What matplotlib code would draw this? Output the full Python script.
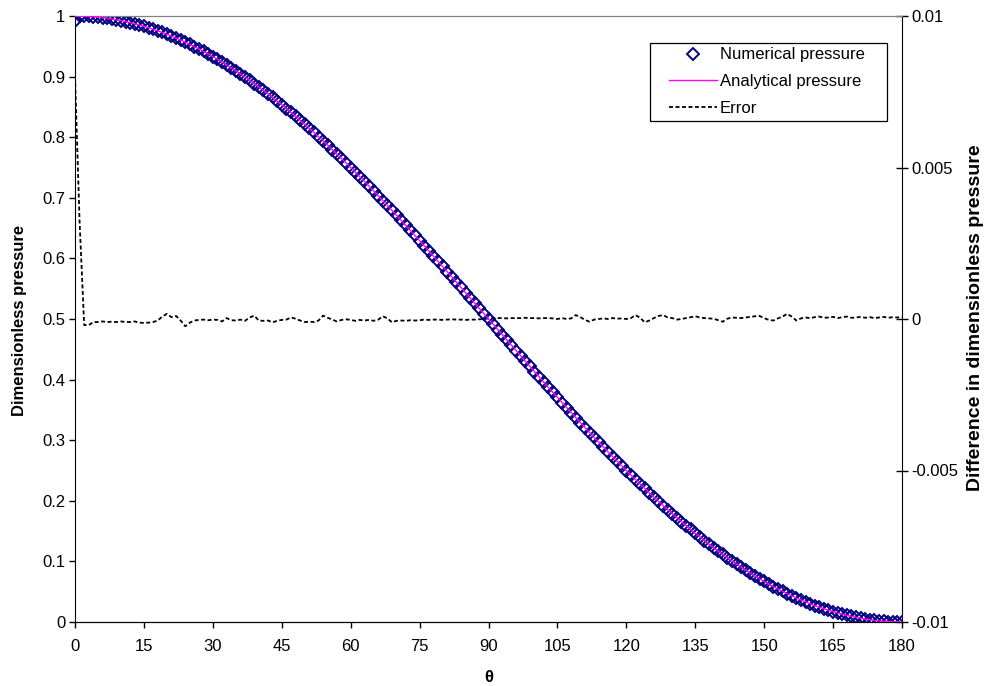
import matplotlib
matplotlib.use('Agg')

import numpy as np
import matplotlib.pyplot as plt
from matplotlib.patches import Rectangle

plt.rcParams['font.family'] = ['Liberation Sans', 'DejaVu Sans']
plt.rcParams['font.size'] = 12

# angle in degrees
theta = list(range(181))

# analytical pressure (1 deg steps)
analytical = [
    1.0000, 0.9999, 0.9997, 0.9993, 0.9988, 0.9981, 0.9973, 0.9963, 0.9951, 0.9938,
    0.9924, 0.9908, 0.9891, 0.9872, 0.9851, 0.9830, 0.9806, 0.9782, 0.9755, 0.9728,
    0.9698, 0.9668, 0.9636, 0.9603, 0.9568, 0.9531, 0.9494, 0.9455, 0.9415, 0.9373,
    0.9330, 0.9286, 0.9240, 0.9193, 0.9145, 0.9096, 0.9045, 0.8993, 0.8940, 0.8886,
    0.8830, 0.8773, 0.8716, 0.8657, 0.8597, 0.8536, 0.8473, 0.8410, 0.8346, 0.8280,
    0.8214, 0.8147, 0.8078, 0.8009, 0.7939, 0.7868, 0.7796, 0.7723, 0.7649, 0.7575,
    0.7500, 0.7424, 0.7347, 0.7270, 0.7192, 0.7113, 0.7033, 0.6953, 0.6873, 0.6792,
    0.6710, 0.6628, 0.6545, 0.6462, 0.6378, 0.6294, 0.6209, 0.6125, 0.6040, 0.5954,
    0.5868, 0.5782, 0.5696, 0.5609, 0.5523, 0.5436, 0.5349, 0.5262, 0.5175, 0.5087,
    0.5000, 0.4913, 0.4825, 0.4738, 0.4651, 0.4564, 0.4477, 0.4391, 0.4304, 0.4218,
    0.4132, 0.4046, 0.3960, 0.3875, 0.3791, 0.3706, 0.3622, 0.3538, 0.3455, 0.3372,
    0.3290, 0.3208, 0.3127, 0.3047, 0.2967, 0.2887, 0.2808, 0.2730, 0.2653, 0.2576,
    0.2500, 0.2425, 0.2351, 0.2277, 0.2204, 0.2132, 0.2061, 0.1991, 0.1922, 0.1853,
    0.1786, 0.1720, 0.1654, 0.1590, 0.1527, 0.1464, 0.1403, 0.1343, 0.1284, 0.1227,
    0.1170, 0.1114, 0.1060, 0.1007, 0.0955, 0.0904, 0.0855, 0.0807, 0.0760, 0.0714,
    0.0670, 0.0627, 0.0585, 0.0545, 0.0506, 0.0469, 0.0432, 0.0397, 0.0364, 0.0332,
    0.0302, 0.0272, 0.0245, 0.0218, 0.0194, 0.0170, 0.0149, 0.0128, 0.0109, 0.0092,
    0.0076, 0.0062, 0.0049, 0.0037, 0.0027, 0.0019, 0.0012, 0.0007, 0.0003, 0.0001,
    0.0000,
]

# numerical pressure: same except the first point sits a bit low
numerical = [0.991] + analytical[1:]

# difference, in units of 1e-4
error_e4 = [
    80, 32, -2.0, -2.0, -1.0, -1.0, -0.8, -1.0, -0.9, -1.0,
    -0.8, -1.0, -1.0, -0.8, -1.2, -1.3, -1.2, -1.0, -0.5, 0.8,
    1.7, 0.6, 1.0, -0.5, -2.4, -1.2, -0.5, -0.3, -0.2, -0.4,
    -0.2, -0.3, -0.8, 0.3, -0.4, -0.5, -0.2, -0.6, 0.5, 1.1,
    -0.5, -0.6, -0.5, -1.1, -0.6, -0.3, -0.2, 0.5, 0.1, -0.5,
    -1.0, -0.9, -1.0, -0.5, 1.1, 0.4, -0.2, -0.8, -0.3, -0.1,
    -0.3, -0.6, -0.3, -0.5, -0.3, -0.6, -0.2, 0.9, 0.2, -1.1,
    -0.6, -0.5, -0.6, -0.4, -0.5, -0.4, -0.2, -0.3, -0.2, -0.2,
    -0.3, -0.2, -0.1, -0.2, -0.2, -0.3, -0.2, -0.2, -0.1, 0.0,
    0.2, 0.3, 0.3, 0.3, 0.2, 0.3, 0.3, 0.3, 0.4, 0.3,
    0.3, 0.2, 0.3, 0.3, 0.2, 0.0, 0.3, 0.0, 0.2, 1.3,
    0.6, -0.3, -0.9, -0.2, 0.0, 0.2, 0.0, 0.3, 0.1, 0.2,
    0.0, 0.3, 1.3, 0.4, -1.1, -0.5, 0.3, 1.0, 1.3, 0.5,
    0.3, -0.2, 0.0, 0.3, 0.6, 0.9, 0.5, 0.3, 0.2, 0.1,
    -0.4, -0.9, 0.1, 0.5, 0.4, 0.3, 0.5, 0.7, 0.9, 1.0,
    0.3, -0.3, -0.5, 0.2, 0.8, 1.7, 0.8, -0.5, 0.2, 0.5,
    0.3, 0.6, 0.8, 0.4, 0.5, 0.7, 0.3, 0.6, 0.8, 0.4,
    0.5, 0.7, 0.4, 0.6, 0.3, 0.5, 0.7, 0.4, 0.6, 0.5,
    0.6,
]
error = [e * 1e-4 for e in error_e4]

xticks = list(range(0, 181, 15))
yticks = [0, 0.1, 0.2, 0.3, 0.4, 0.5, 0.6, 0.7, 0.8, 0.9, 1]
ylabels = ['0', '0.1', '0.2', '0.3', '0.4', '0.5', '0.6', '0.7', '0.8', '0.9', '1']
y2ticks = [-0.01, -0.005, 0, 0.005, 0.01]
y2labels = ['-0.01', '-0.005', '0', '0.005', '0.01']

W, H = 986, 686
x0, x1, y0, y1 = 75, 902, 16, 622   # plot area in pixels

fig = plt.figure(figsize=(W/100, H/100), dpi=100)
ax = fig.add_axes([x0/W, 1 - y1/H, (x1 - x0)/W, (y1 - y0)/H])
ax2 = ax.twinx()

# error on the secondary axis, drawn underneath
l3, = ax2.plot(theta, error, color='black', lw=1.3, ls=(0, (2.2, 1.4)), label='Error')

l2, = ax.plot(theta, analytical, color='#FF00FF', lw=1.0, label='Analytical pressure', zorder=3)
l1, = ax.plot(theta, numerical, ls='none', marker='D', markersize=6, mfc='none',
              mec='#000080', mew=1.4, label='Numerical pressure', zorder=2)
ax.set_zorder(ax2.get_zorder() + 1)
ax.patch.set_visible(False)

ax.set_xlim(0, 180)
ax.set_ylim(0, 1)
ax2.set_ylim(-0.01, 0.01)
ax.set_xticks(xticks)
ax.set_yticks(yticks)
ax.set_yticklabels(ylabels)
ax2.set_yticks(y2ticks)
ax2.set_yticklabels(y2labels)

ax.tick_params(axis='both', direction='out', length=4, width=1, pad=3, labelsize=12)
ax.tick_params(axis='x', pad=8.5)
ax2.tick_params(axis='y', direction='inout', length=8, width=1, pad=3, labelsize=12)

ax.spines['top'].set_color('#808080')
ax2.spines['top'].set_color('#808080')
ax.spines['right'].set_visible(False)
ax2.spines['left'].set_visible(False)
ax2.spines['right'].set_color('black')

fig.text(488.5/W, 1 - 677/H, 'θ', ha='center', va='center', fontsize=12, fontweight='bold')
fig.text(20/W, 1 - 320/H, 'Dimensionless pressure', rotation=90,
         ha='center', va='center', fontsize=12, fontweight='bold')
fig.text(976/W, 1 - 318/H, 'Difference in dimensionless pressure', rotation=90,
         ha='center', va='center', fontsize=14, fontweight='bold')

# legend box (Excel style, wider side padding)
def ax_frac(px, py):
    return (px - x0) / (x1 - x0), (y1 - py) / (y1 - y0)

bx, by = ax_frac(650, 121)
bw = (887 - 650) / (x1 - x0)
bh = (121 - 43) / (y1 - y0)
ax.add_patch(Rectangle((bx, by), bw, bh, transform=ax.transAxes, facecolor='white',
                       edgecolor='black', lw=0.9, zorder=5, clip_on=False))

leg = ax.legend(handles=[l1, l2, l3], loc='upper left',
                bbox_to_anchor=ax_frac(669, 47.5), frameon=False,
                fontsize=12, handlelength=2.9, handletextpad=0.15,
                labelspacing=0.7, borderpad=0, borderaxespad=0, numpoints=1)
leg.set_zorder(6)

plt.savefig('out.png', dpi=100)
